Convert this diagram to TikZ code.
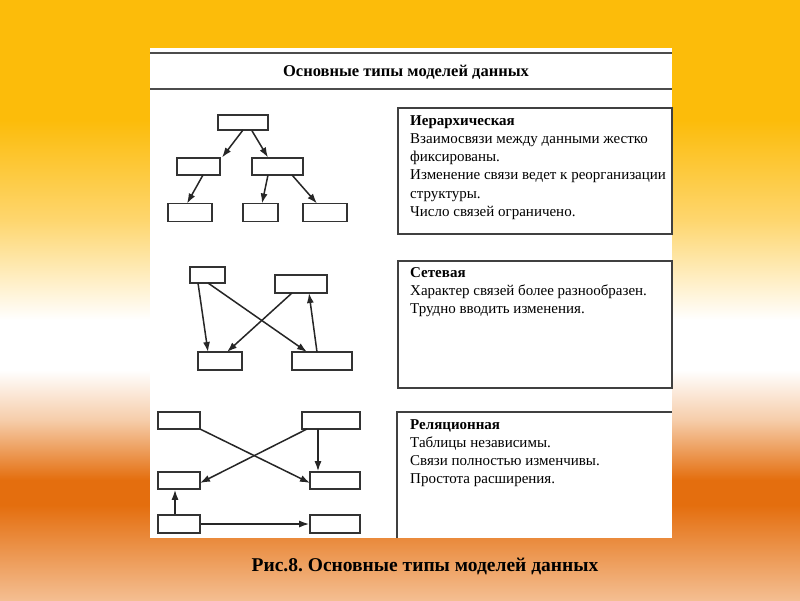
\documentclass[tikz,border=0pt]{standalone}
\usepackage{fontspec}
\setmainfont{Liberation Serif}
\usetikzlibrary{arrows.meta}
\frenchspacing
\definecolor{c1}{RGB}{252,188,10}
\definecolor{c2}{RGB}{254,214,110}
\definecolor{c3}{RGB}{255,255,255}
\definecolor{c4}{RGB}{246,205,170}
\definecolor{c5}{RGB}{228,110,14}
\definecolor{c6}{RGB}{244,190,145}
\begin{document}
\begin{tikzpicture}[x=1pt,y=-1pt,
  bx/.style={draw=black!80,line width=1.6pt,fill=white,inner sep=0pt},
  ar/.style={-{Latex[length=10pt,width=7pt]},line width=1.5pt,black!85},
  tb/.style={draw=black!75,line width=1.6pt,fill=white},
  tx/.style={anchor=north west,align=left,font=\fontsize{15}{18.3}\selectfont,inner sep=0pt}]
\useasboundingbox (0,0) rectangle (800,600);
\shade[top color=c1,bottom color=c1] (0,0) rectangle (800,120);
\shade[top color=c1,bottom color=c2] (0,120) rectangle (800,220);
\shade[top color=c2,bottom color=c3] (0,220) rectangle (800,320);
\fill[c3] (0,320) rectangle (800,370);
\shade[top color=c3,bottom color=c4] (0,370) rectangle (800,420);
\shade[top color=c4,bottom color=c5] (0,420) rectangle (800,480);
\fill[c5] (0,480) rectangle (800,505);
\shade[top color=c5,bottom color=c6] (0,505) rectangle (800,600);
% panel
\fill[white] (150,48) rectangle (672,538);
\draw[black!70,line width=1.6pt] (150,53) -- (672,53);
\draw[black!70,line width=1.6pt] (150,89) -- (672,89);
\node[font=\bfseries\fontsize{16.5}{18}\selectfont] (title) at (406,72) {Основные типы моделей данных};
% hierarchy
\node[bx,minimum width=50pt,minimum height=15pt] (h0) at (243,122.5) {};
\node[bx,minimum width=43pt,minimum height=17pt] (h1) at (198.5,166.5) {};
\node[bx,minimum width=51pt,minimum height=17pt] (h2) at (277.5,166.5) {};
\node[bx,minimum width=44pt,minimum height=18pt] (h3) at (190,212.5) {};
\node[bx,minimum width=35pt,minimum height=18pt] (h4) at (260.5,212.5) {};
\node[bx,minimum width=44pt,minimum height=18pt] (h5) at (325,212.5) {};
\draw[ar] (243,130) -- (222,157.5);
\draw[ar] (h0.south -| 252,0) -- (268,157.5);
\draw[ar] (203,175) -- (187,203.5);
\draw[ar] (268,175) -- (262,203.5);
\draw[ar] (292,175) -- (317,203.5);
\node[tb,minimum width=274pt,minimum height=126pt,anchor=north west] (t1) at (397,107) {};
\node[tx] (t1x) at (410,115) {\textbf{Иерархическая}\\Взаимосвязи между данными жестко\\фиксированы.\\Изменение связи ведет к реорганизации\\структуры.\\Число связей ограничено.};
% network
\node[bx,minimum width=35pt,minimum height=16pt] (n1) at (207.5,275) {};
\node[bx,minimum width=52pt,minimum height=18pt] (n2) at (301,284) {};
\node[bx,minimum width=44pt,minimum height=18pt] (n3) at (220,361) {};
\node[bx,minimum width=60pt,minimum height=18pt] (n4) at (322,361) {};
\draw[ar] (198,283) -- (208,352);
\draw[ar] (208,283) -- (307,352);
\draw[ar] (292,293) -- (227,352);
\draw[ar] (317,352) -- (309,293);
\node[tb,minimum width=274pt,minimum height=127pt,anchor=north west] (t2) at (397,260) {};
\node[tx] (t2x) at (410,267) {\textbf{Сетевая}\\Характер связей более разнообразен.\\Трудно вводить изменения.};
% relational
\node[bx,minimum width=42pt,minimum height=17pt] (r1) at (179,420.5) {};
\node[bx,minimum width=58pt,minimum height=17pt] (r2) at (331,420.5) {};
\node[bx,minimum width=42pt,minimum height=17pt] (r3) at (179,480.5) {};
\node[bx,minimum width=50pt,minimum height=17pt] (r4) at (335,480.5) {};
\node[bx,minimum width=42pt,minimum height=18pt] (r5) at (179,524) {};
\node[bx,minimum width=50pt,minimum height=18pt] (r6) at (335,524) {};
\draw[ar] (200,429) -- (310,483);
\draw[ar] (307,429) -- (200,483);
\draw[ar] (318,429) -- (r4.north -| 318,0);
\draw[ar] (r5.north -| 175,0) -- (r3.south -| 175,0);
\draw[ar] (r5.east) -- (r6.west);
\draw[black!75,line width=1.6pt] (397,538) |- (672,412);
\node[tx] (t3x) at (410,419) {\textbf{Реляционная}\\Таблицы независимы.\\Связи полностью изменчивы.\\Простота расширения.};
\node[font=\bfseries\fontsize{19.5}{22}\selectfont] (cap) at (425,566) {Рис.8. Основные типы моделей данных};
\end{tikzpicture}
\end{document}
